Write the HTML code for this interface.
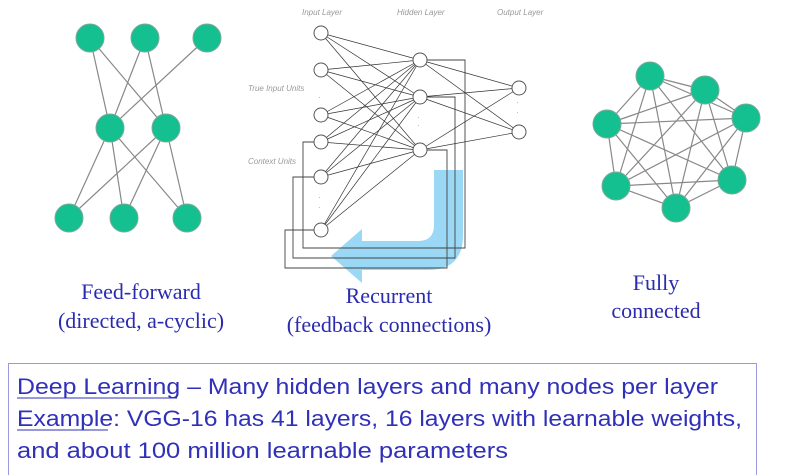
<!DOCTYPE html>
<html><head><meta charset="utf-8"><style>
html,body{margin:0;padding:0;background:#fff;}
svg{display:block;}
</style></head><body>
<svg width="794" height="475" viewBox="0 0 794 475" xmlns="http://www.w3.org/2000/svg">
<rect width="794" height="475" fill="#fff"/>
<!-- Feed-forward -->
<g stroke="#888" stroke-width="1.2">
<line x1="90" y1="38" x2="110" y2="128"/><line x1="90" y1="38" x2="166" y2="128"/>
<line x1="145" y1="38" x2="110" y2="128"/><line x1="145" y1="38" x2="166" y2="128"/>
<line x1="207" y1="38" x2="110" y2="128"/>
<line x1="110" y1="128" x2="69" y2="218"/><line x1="110" y1="128" x2="124" y2="218"/><line x1="110" y1="128" x2="187" y2="218"/>
<line x1="166" y1="128" x2="69" y2="218"/><line x1="166" y1="128" x2="124" y2="218"/><line x1="166" y1="128" x2="187" y2="218"/>
</g>
<g fill="#14c08f" stroke="#7a9" stroke-width="1">
<circle cx="90" cy="38" r="14"/><circle cx="145" cy="38" r="14"/><circle cx="207" cy="38" r="14"/>
<circle cx="110" cy="128" r="14"/><circle cx="166" cy="128" r="14"/>
<circle cx="69" cy="218" r="14"/><circle cx="124" cy="218" r="14"/><circle cx="187" cy="218" r="14"/>
</g>
<!-- Fully connected -->
<g stroke="#888" stroke-width="1.2">
<line x1="650" y1="76" x2="705" y2="90"/><line x1="650" y1="76" x2="746" y2="118"/><line x1="650" y1="76" x2="732" y2="180"/><line x1="650" y1="76" x2="676" y2="208"/><line x1="650" y1="76" x2="616" y2="186"/><line x1="650" y1="76" x2="607" y2="124"/>
<line x1="705" y1="90" x2="746" y2="118"/><line x1="705" y1="90" x2="732" y2="180"/><line x1="705" y1="90" x2="676" y2="208"/><line x1="705" y1="90" x2="616" y2="186"/><line x1="705" y1="90" x2="607" y2="124"/>
<line x1="746" y1="118" x2="732" y2="180"/><line x1="746" y1="118" x2="676" y2="208"/><line x1="746" y1="118" x2="616" y2="186"/><line x1="746" y1="118" x2="607" y2="124"/>
<line x1="732" y1="180" x2="676" y2="208"/><line x1="732" y1="180" x2="616" y2="186"/><line x1="732" y1="180" x2="607" y2="124"/>
<line x1="676" y1="208" x2="616" y2="186"/><line x1="676" y1="208" x2="607" y2="124"/>
<line x1="616" y1="186" x2="607" y2="124"/>
</g>
<g fill="#14c08f" stroke="#7a9" stroke-width="1">
<circle cx="650" cy="76" r="14"/><circle cx="705" cy="90" r="14"/><circle cx="746" cy="118" r="14"/><circle cx="732" cy="180" r="14"/><circle cx="676" cy="208" r="14"/><circle cx="616" cy="186" r="14"/><circle cx="607" cy="124" r="14"/>
</g>
<!-- Recurrent -->
<path d="M434 170 H463 V235 Q463 270 428 270 H362 V283 L331 256 L362 229 V241 H418 Q434 241 434 225 Z" fill="#8fd4f4" opacity="0.9"/>
<g stroke="#444" stroke-width="0.9" fill="none">
<path d="M427 60 H465 V248 H303 V142 H314"/>
<path d="M427 97 H455 V258 H293 V177 H314"/>
<path d="M427 150 H447 V268 H285 V230 H314"/>
</g>
<g stroke="#333" stroke-width="0.7">
<line x1="321" y1="33" x2="420" y2="60"/><line x1="321" y1="33" x2="420" y2="97"/><line x1="321" y1="33" x2="420" y2="150"/>
<line x1="321" y1="70" x2="420" y2="60"/><line x1="321" y1="70" x2="420" y2="97"/><line x1="321" y1="70" x2="420" y2="150"/>
<line x1="321" y1="115" x2="420" y2="60"/><line x1="321" y1="115" x2="420" y2="97"/><line x1="321" y1="115" x2="420" y2="150"/>
<line x1="321" y1="142" x2="420" y2="60"/><line x1="321" y1="142" x2="420" y2="97"/><line x1="321" y1="142" x2="420" y2="150"/>
<line x1="321" y1="177" x2="420" y2="60"/><line x1="321" y1="177" x2="420" y2="97"/><line x1="321" y1="177" x2="420" y2="150"/>
<line x1="321" y1="230" x2="420" y2="60"/><line x1="321" y1="230" x2="420" y2="97"/><line x1="321" y1="230" x2="420" y2="150"/>
<line x1="420" y1="60" x2="519" y2="88"/><line x1="420" y1="60" x2="519" y2="132"/>
<line x1="420" y1="97" x2="519" y2="88"/><line x1="420" y1="97" x2="519" y2="132"/>
<line x1="420" y1="150" x2="519" y2="88"/><line x1="420" y1="150" x2="519" y2="132"/>
</g>
<g fill="#fff" stroke="#555" stroke-width="1">
<circle cx="321" cy="33" r="7"/><circle cx="321" cy="70" r="7"/><circle cx="321" cy="115" r="7"/><circle cx="321" cy="142" r="7"/><circle cx="321" cy="177" r="7"/><circle cx="321" cy="230" r="7"/>
<circle cx="420" cy="60" r="7"/><circle cx="420" cy="97" r="7"/><circle cx="420" cy="150" r="7"/>
<circle cx="519" cy="88" r="7"/><circle cx="519" cy="132" r="7"/>
</g>
<g fill="#999" font-family="Liberation Sans, sans-serif" font-size="8" font-style="italic">
<text x="302" y="15">Input  Layer</text><text x="397" y="15">Hidden  Layer</text><text x="497" y="15">Output  Layer</text>
<text x="248" y="91">True Input Units</text><text x="248" y="164">Context  Units</text>
<text x="318" y="100">·</text><text x="318" y="200">·</text><text x="318" y="210">·</text>
<text x="417" y="120">·</text><text x="417" y="128">·</text><text x="516" y="105">·</text><text x="516" y="115">·</text>
</g>
<!-- Captions -->
<g fill="#2b2bb0" font-family="Liberation Serif, serif" font-size="22" text-anchor="middle">
<text x="141" y="299">Feed-forward</text><text x="141" y="328">(directed, a-cyclic)</text>
<text x="389" y="303">Recurrent</text><text x="389" y="332">(feedback connections)</text>
<text x="656" y="290">Fully</text><text x="656" y="318">connected</text>
</g>
<!-- Bottom box -->
<rect x="8.5" y="363.5" width="748" height="116" fill="#fff" stroke="#9999dd" stroke-width="1"/>
<g fill="#3030b8" font-family="Liberation Sans Narrow, Liberation Sans, sans-serif" font-size="22">
<text x="17" y="394" textLength="701" lengthAdjust="spacingAndGlyphs">Deep Learning – Many hidden layers and many nodes per layer</text>
<text x="17" y="426" textLength="725" lengthAdjust="spacingAndGlyphs">Example: VGG-16 has 41 layers, 16 layers with learnable weights,</text>
<text x="17" y="458" textLength="491" lengthAdjust="spacingAndGlyphs">and about 100 million learnable parameters</text>
</g>
<g stroke="#3030b8" stroke-width="1">
<line x1="17" y1="398" x2="177" y2="398"/><line x1="17" y1="430" x2="108" y2="430"/>
</g>
</svg>
</body></html>
